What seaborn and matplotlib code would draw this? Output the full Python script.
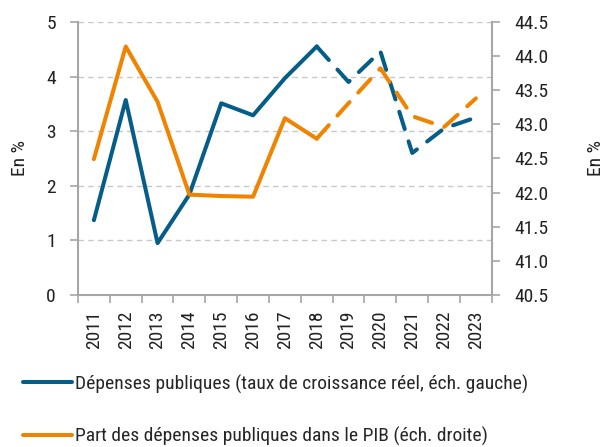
import matplotlib
matplotlib.use("Agg")
import matplotlib.pyplot as plt
import seaborn as sns
from matplotlib import font_manager

years = ["2011", "2012", "2013", "2014", "2015", "2016", "2017",
         "2018", "2019", "2020", "2021", "2022", "2023"]
# taux de croissance réel des dépenses publiques (échelle gauche, %)
depenses = [1.37, 3.57, 0.95, 1.84, 3.51, 3.29, 3.97, 4.55, 3.90, 4.46, 2.60, 3.05, 3.25]
# part des dépenses publiques dans le PIB (échelle droite, %)
part_pib = [42.49, 44.14, 43.33, 41.97, 41.95, 41.94, 43.09, 42.79, 43.31, 43.82, 43.12, 42.96, 43.38]
last_solid = 7  # 2018, après: prévisions en pointillés

label_dep = "Dépenses publiques (taux de croissance réel, éch. gauche)"
label_pib = "Part des dépenses publiques dans le PIB (éch. droite)"

BLUE = "#055d88"
ORANGE = "#f08300"
GREY = "#a6a6a6"
FS = 14

sns.set_theme(style="white")
names = {f.name for f in font_manager.fontManager.ttflist}
prefs = ["Roboto Condensed", "Liberation Sans Narrow", "DejaVu Sans Condensed", "Roboto"]
fam = [n for n in prefs if n in names][:1] + ["DejaVu Sans"]
plt.rcParams["font.family"] = fam

idx = list(range(len(years)))
fig = plt.figure(figsize=(6.14, 4.47), dpi=100)
ax = fig.add_axes([0.127, 0.34, 0.674, 0.611])
ax2 = ax.twinx()

lw = 2.9
sns.lineplot(x=idx[:last_solid + 1], y=depenses[:last_solid + 1], ax=ax, color=BLUE,
             lw=lw, solid_capstyle="round", label=label_dep, legend=False)
sns.lineplot(x=idx[last_solid:], y=depenses[last_solid:], ax=ax, color=BLUE,
             lw=lw, legend=False)
ax.lines[-1].set_dashes((4.5, 3.2))
ax.lines[-1].set_dash_capstyle("round")

sns.lineplot(x=idx[:last_solid + 1], y=part_pib[:last_solid + 1], ax=ax2, color=ORANGE,
             lw=lw, solid_capstyle="round", label=label_pib, legend=False)
sns.lineplot(x=idx[last_solid:], y=part_pib[last_solid:], ax=ax2, color=ORANGE,
             lw=lw, legend=False)
ax2.lines[-1].set_dashes((4.5, 3.2))
ax2.lines[-1].set_dash_capstyle("round")

ax.set_xlim(-0.5, len(years) - 0.5)
ax.set_ylim(0, 5)
ax2.set_ylim(40.5, 44.5)
ax.set_yticks(range(0, 6))
ax2.set_yticks([40.5 + 0.5 * i for i in range(9)])
ax2.set_yticklabels([f"{40.5 + 0.5 * i:.1f}" for i in range(9)])

ax.set_xticks(idx)
ax.set_xticklabels(years, rotation=90)
ax.set_xticks([i - 0.5 for i in range(len(years) + 1)], minor=True)
ax.tick_params(axis="x", which="major", length=0, pad=11, labelsize=FS, colors="#222222")
ax.tick_params(axis="x", which="minor", length=6, width=1.2, color=GREY, direction="out", bottom=True)
ax.tick_params(axis="y", length=6, width=1.2, color=GREY, direction="out", left=True,
               labelsize=FS, labelcolor="#222222", pad=10)
ax2.tick_params(axis="y", length=6, width=1.2, color=GREY, direction="out", right=True,
                labelsize=FS, labelcolor="#222222", pad=10)

ax.yaxis.grid(True, color="#c8c8c8", linestyle=(0, (4, 3)), lw=1)
ax.set_axisbelow(True)

for a in (ax, ax2):
    for s in a.spines.values():
        s.set_visible(False)
ax.spines["left"].set_visible(True)
ax.spines["bottom"].set_visible(True)
ax2.spines["right"].set_visible(True)
for s in (ax.spines["left"], ax.spines["bottom"], ax2.spines["right"]):
    s.set_color(GREY)
    s.set_linewidth(1.5)

ax.set_ylabel("En %", fontsize=FS, color="#222222", labelpad=12)
ax2.set_ylabel("En %", fontsize=FS, color="#222222", labelpad=28)
ax.set_xlabel("")

handles = [ax.lines[0], ax2.lines[0]]
fig.legend(handles, [label_dep, label_pib], loc="upper left", bbox_to_anchor=(0.025, 0.18),
           frameon=False, fontsize=FS, handlelength=2.5, handletextpad=0.15,
           labelspacing=1.7, borderaxespad=0)

fig.savefig("out.png", dpi=100)
